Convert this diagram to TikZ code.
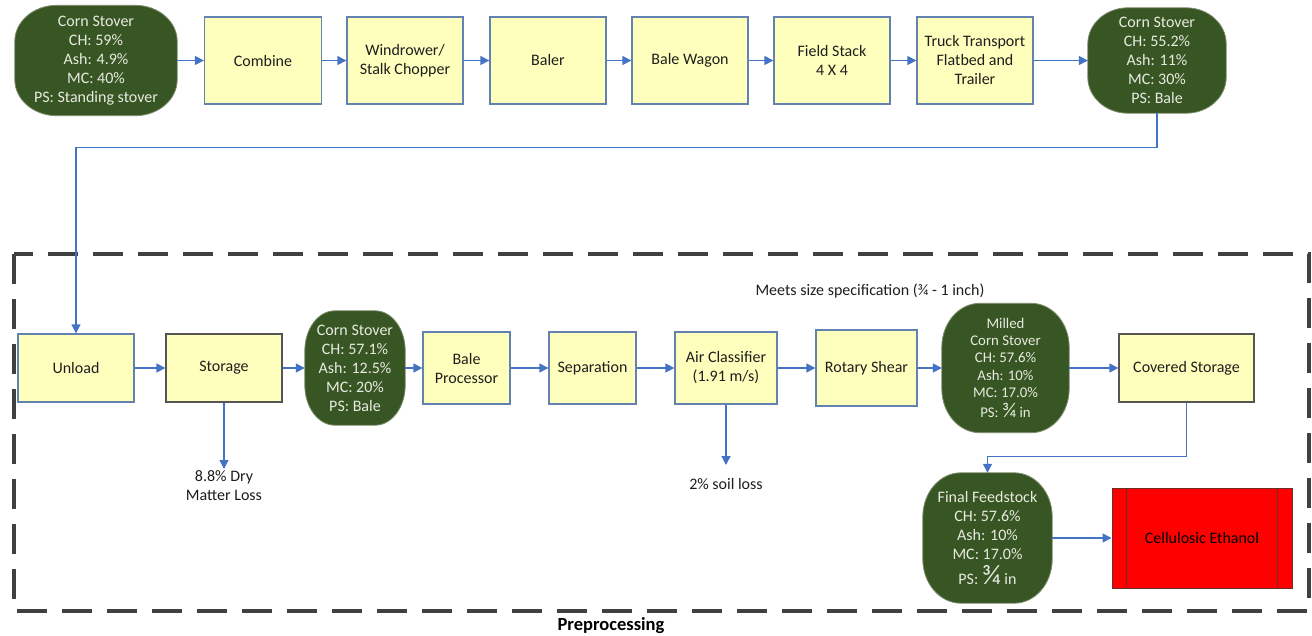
\documentclass[tikz,border=0pt]{standalone}
\usepackage{fontspec}
\setmainfont{Carlito}
\usetikzlibrary{arrows.meta,calc}

\definecolor{boxfill}{RGB}{255,255,189}
\definecolor{boxline}{RGB}{100,130,175}
\definecolor{darkline}{RGB}{85,85,85}
\definecolor{ovalfill}{RGB}{56,86,35}
\definecolor{ovalline}{RGB}{125,140,110}
\definecolor{ovaltext}{RGB}{232,234,225}
\definecolor{flow}{RGB}{68,114,196}
\definecolor{framegray}{RGB}{64,64,64}
\definecolor{ethanolred}{RGB}{255,0,0}
\definecolor{ethanolline}{RGB}{110,45,45}
\definecolor{boxtext}{RGB}{30,30,30}

\pgfdeclarelayer{paper}
\pgfdeclarelayer{ovals}
\pgfsetlayers{paper,ovals,main}

% rounded body with elliptical corners behind a material node: name, rx, ry
\newcommand\stoverbg[3]{%
  \begin{pgfonlayer}{ovals}
  \filldraw[fill=ovalfill, draw=ovalline, line width=0.8pt]
    ($(#1.north west)+(#2,0)$) -- ($(#1.north east)+(-#2,0)$)
    arc[start angle=90, end angle=0, x radius=#2pt, y radius=#3pt]
    -- ($(#1.south east)+(0,-#3)$)
    arc[start angle=0, end angle=-90, x radius=#2pt, y radius=#3pt]
    -- ($(#1.south west)+(#2,0)$)
    arc[start angle=-90, end angle=-180, x radius=#2pt, y radius=#3pt]
    -- ($(#1.north west)+(0,#3)$)
    arc[start angle=180, end angle=90, x radius=#2pt, y radius=#3pt]
    -- cycle;
  \end{pgfonlayer}}

\begin{document}
\begin{tikzpicture}[x=1pt,y=-1pt,
  every node/.style={font=\fontsize{16}{19}\selectfont, inner sep=0pt},
  procbox/.style={rectangle, draw=boxline, line width=1.3pt, fill=boxfill,
    text=boxtext, align=center},
  stover/.style={rectangle, text=ovaltext, align=center},
  flowline/.style={draw=flow, line width=1.3pt, -{Triangle[length=9pt,width=9pt]}},
  note/.style={text=boxtext, align=center}]

\begin{pgfonlayer}{paper}
\useasboundingbox[fill=white] (0,0) rectangle (1312,635);
\end{pgfonlayer}

% preprocessing frame
\draw[framegray, line width=3.5pt, dash pattern=on 30pt off 15pt] (14,254) rectangle (1309,611);
\node[font=\fontsize{18.5}{22}\selectfont\bfseries, text=black] (pretitle) at (611,626) {Preprocessing};

% harvest and transport chain
\node[stover, minimum width=162pt, minimum height=110pt] (field) at (96,60.5)
  {Corn Stover\\CH: 59\%\\Ash: 4.9\%\\MC: 40\%\\PS: Standing stover};
\stoverbg{field}{42}{36}
\node[procbox, minimum width=117pt, minimum height=87pt] (combine) at (263,60.5) {Combine};
\node[procbox, minimum width=116pt, minimum height=87pt] (windrow) at (405,60.5) {Windrower/\\Stalk Chopper};
\node[procbox, minimum width=116pt, minimum height=87pt] (baler) at (548,60.5) {Baler};
\node[procbox, minimum width=116pt, minimum height=87pt] (wagon) at (690,60.5) {Bale Wagon};
\node[procbox, minimum width=116pt, minimum height=87pt] (stack) at (832,60.5) {Field Stack\\4 X 4};
\node[procbox, minimum width=116pt, minimum height=87pt] (truck) at (975,60.5) {Truck Transport\\Flatbed and\\Trailer};
\node[stover, minimum width=138pt, minimum height=105pt] (bale) at (1157,60.5)
  {Corn Stover\\CH: 55.2\%\\Ash: 11\%\\MC: 30\%\\PS: Bale};
\stoverbg{bale}{40}{36}

\draw[flowline] (field) -- (combine);
\draw[flowline] (combine) -- (windrow);
\draw[flowline] (windrow) -- (baler);
\draw[flowline] (baler) -- (wagon);
\draw[flowline] (wagon) -- (stack);
\draw[flowline] (stack) -- (truck);
\draw[flowline] (truck) -- (bale);

% preprocessing chain
\node[procbox, minimum width=116pt, minimum height=68pt] (unload) at (76,368) {Unload};
\node[procbox, draw=darkline, minimum width=116pt, minimum height=68pt] (storage) at (224,368) {Storage};
\node[stover, minimum width=100pt, minimum height=114pt] (stored) at (355,368)
  {Corn Stover\\CH: 57.1\%\\Ash: 12.5\%\\MC: 20\%\\PS: Bale};
\stoverbg{stored}{30}{40}
\node[procbox, minimum width=87pt, minimum height=72pt] (baleproc) at (466.5,368) {Bale\\Processor};
\node[procbox, minimum width=87pt, minimum height=72pt] (separation) at (592.5,368) {Separation};
\node[procbox, minimum width=102pt, minimum height=72pt] (classifier) at (726,368) {Air Classifier\\(1.91 m/s)};
\node[procbox, minimum width=101pt, minimum height=76pt] (shear) at (866.5,368) {Rotary Shear};
\node[stover, minimum width=127pt, minimum height=129pt,
  font=\fontsize{14.8}{17.3}\selectfont] (milled) at (1005.5,368)
  {Milled\\Corn Stover\\CH: 57.6\%\\Ash: 10\%\\MC: 17.0\%\\[3pt]PS: {\fontsize{21}{17}\selectfont ¾} in};
\stoverbg{milled}{38}{44}
\node[procbox, draw=darkline, minimum width=135pt, minimum height=68pt] (covered) at (1186.5,368) {Covered Storage};
\node[stover, minimum width=129pt, minimum height=130pt] (final) at (987.5,538)
  {Final Feedstock\\CH: 57.6\%\\Ash: 10\%\\MC: 17.0\%\\[4pt]PS: {\fontsize{28}{19}\selectfont ¾} in};
\stoverbg{final}{38}{44}

% end product: predefined-process box
\node[rectangle, fill=ethanolred, draw=ethanolline, line width=1pt, minimum width=180pt,
  minimum height=100pt, text=black] (ethanol) at (1202,538) {Cellulosic Ethanol};
\draw[ethanolline, line width=1.2pt] ($(ethanol.north west)+(15,0)$) -- ($(ethanol.south west)+(15,0)$);
\draw[ethanolline, line width=1.2pt] ($(ethanol.north east)-(15,0)$) -- ($(ethanol.south east)-(15,0)$);

\node[note] (spec) at (870,291) {Meets size specification (¾ - 1 inch)};

\draw[flowline] (bale.south) -- ++(0,34) -| (unload.north);
\draw[flowline] (unload) -- (storage);
\draw[flowline] (storage) -- (stored);
\draw[flowline] (stored) -- (baleproc);
\draw[flowline] (baleproc) -- (separation);
\draw[flowline] (separation) -- (classifier);
\draw[flowline] (classifier) -- (shear);
\draw[flowline] (shear) -- (milled);
\draw[flowline] (milled) -- (covered);
\draw[flowline] (covered.south) -- ++(0,54) -| (final.north);
\draw[flowline] (final) -- (ethanol);

% losses
\node[note] (dml) at (224,486) {8.8\% Dry\\Matter Loss};
\coordinate (dmltip) at (224,469);
\draw[flowline] (storage.south) -- (dmltip);
\node[note] (soil) at (726,484) {2\% soil loss};
\coordinate (soiltip) at (726,465);
\draw[flowline] (classifier.south) -- (soiltip);

\end{tikzpicture}
\end{document}
